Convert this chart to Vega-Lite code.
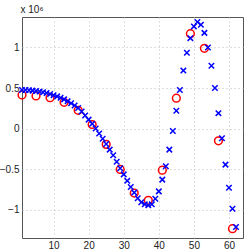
{
  "$schema": "https://vega.github.io/schema/vega-lite/v6.json",
  "autosize": {"type": "none"},
  "padding": {"left": 22, "top": 17, "right": 6, "bottom": 12},
  "width": 221,
  "height": 221,
  "background": "white",
  "config": {
    "view": {"stroke": "#555555", "strokeWidth": 1},
    "font": "Liberation Sans",
    "axis": {
      "labelFont": "Liberation Sans",
      "labelFontSize": 10,
      "labelColor": "#222222",
      "grid": true,
      "gridColor": "#bdbdbd",
      "gridDash": [1, 3],
      "gridWidth": 1,
      "domain": false,
      "ticks": false
    }
  },
  "datasets": {
    "blue": [
      {"x": 1, "y": 476000}, {"x": 2, "y": 475000}, {"x": 3, "y": 472000}, {"x": 4, "y": 468000},
      {"x": 5, "y": 463000}, {"x": 6, "y": 456000}, {"x": 7, "y": 448000}, {"x": 8, "y": 438000},
      {"x": 9, "y": 426000}, {"x": 10, "y": 412000}, {"x": 11, "y": 397000}, {"x": 12, "y": 380000},
      {"x": 13, "y": 360000}, {"x": 14, "y": 338000}, {"x": 15, "y": 313000}, {"x": 16, "y": 285000},
      {"x": 17, "y": 254000}, {"x": 18, "y": 210000}, {"x": 19, "y": 160000}, {"x": 20, "y": 110000},
      {"x": 21, "y": 58000}, {"x": 22, "y": 0}, {"x": 23, "y": -60000}, {"x": 24, "y": -125000},
      {"x": 25, "y": -190000}, {"x": 26, "y": -260000}, {"x": 27, "y": -330000}, {"x": 28, "y": -410000},
      {"x": 29, "y": -490000}, {"x": 30, "y": -565000}, {"x": 31, "y": -645000}, {"x": 32, "y": -720000},
      {"x": 33, "y": -790000}, {"x": 34, "y": -860000}, {"x": 35, "y": -910000}, {"x": 36, "y": -935000},
      {"x": 37, "y": -945000}, {"x": 38, "y": -935000}, {"x": 39, "y": -865000}, {"x": 40, "y": -775000},
      {"x": 41, "y": -630000}, {"x": 42, "y": -465000}, {"x": 43, "y": -260000}, {"x": 44, "y": -30000},
      {"x": 45, "y": 220000}, {"x": 46, "y": 475000}, {"x": 47, "y": 715000}, {"x": 48, "y": 935000},
      {"x": 49, "y": 1115000}, {"x": 50, "y": 1260000}, {"x": 51, "y": 1315000}, {"x": 52, "y": 1280000},
      {"x": 53, "y": 1180000}, {"x": 54, "y": 1000000}, {"x": 55, "y": 775000}, {"x": 56, "y": 500000},
      {"x": 57, "y": 190000}, {"x": 58, "y": -120000}, {"x": 59, "y": -445000}, {"x": 60, "y": -730000},
      {"x": 61, "y": -990000}, {"x": 62, "y": -1215000}
    ],
    "red": [
      {"x": 1, "y": 415000}, {"x": 5, "y": 402000}, {"x": 9, "y": 381000}, {"x": 13, "y": 324000},
      {"x": 17, "y": 225000}, {"x": 21, "y": 50000}, {"x": 25, "y": -195000}, {"x": 29, "y": -505000},
      {"x": 33, "y": -795000}, {"x": 37, "y": -885000}, {"x": 41, "y": -514000}, {"x": 45, "y": 374000},
      {"x": 49, "y": 1170000}, {"x": 53, "y": 990000}, {"x": 57, "y": -151000}, {"x": 61, "y": -1235000}
    ]
  },
  "encoding": {
    "x": {
      "field": "x", "type": "quantitative",
      "scale": {"domain": [1, 64], "nice": false, "zero": false},
      "axis": {"values": [10, 20, 30, 40, 50, 60], "title": null, "labelPadding": 2, "labelFontSize": 10, "labelBaseline": "top"}
    },
    "y": {
      "field": "y", "type": "quantitative",
      "scale": {"domain": [-1350000, 1376000], "nice": false, "zero": false},
      "axis": {
        "values": [-1000000, -500000, 0, 500000, 1000000],
        "labelExpr": "format(datum.value / 1000000, '')",
        "labelPadding": 3,
        "title": "x 10⁶",
        "titleAngle": 0,
        "titleX": -2,
        "titleY": -3,
        "titleAlign": "left",
        "titleBaseline": "bottom",
        "titleFont": "Liberation Sans",
        "titleFontSize": 10,
        "titleFontWeight": "normal",
        "titleColor": "#222222"
      }
    }
  },
  "layer": [
    {
      "data": {"name": "red"},
      "mark": {"type": "point", "shape": "circle", "filled": false, "stroke": "#ff0000", "strokeWidth": 1.5, "size": 60, "opacity": 1}
    },
    {
      "data": {"name": "blue"},
      "mark": {"type": "point", "shape": "M-1,-1L1,1M-1,1L1,-1", "filled": false, "stroke": "#0000ff", "strokeWidth": 1.5, "size": 30, "opacity": 1}
    }
  ]
}
